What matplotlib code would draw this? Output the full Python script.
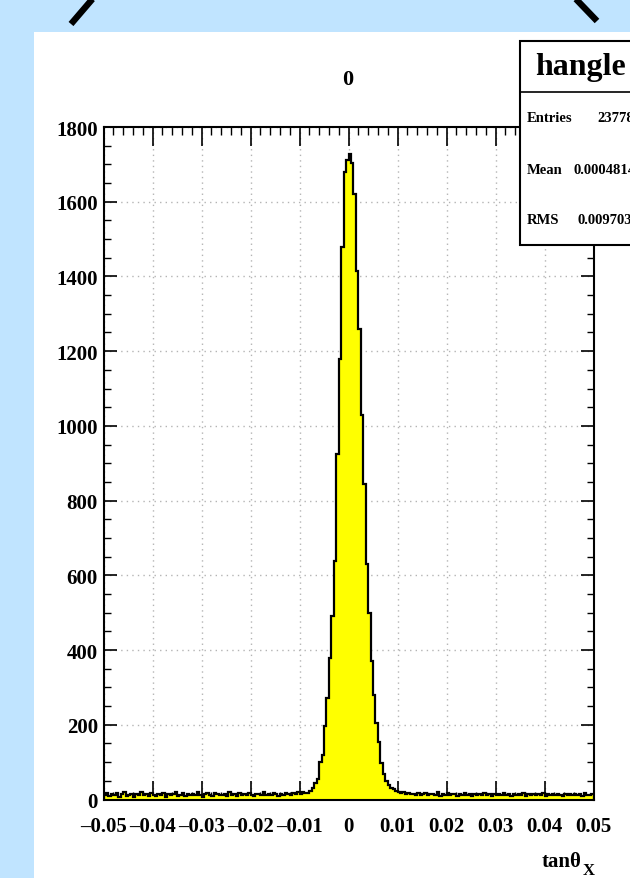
import numpy as np
import matplotlib
matplotlib.use("Agg")
import matplotlib.pyplot as plt
from matplotlib.ticker import MultipleLocator
from matplotlib.patches import Rectangle
from matplotlib.lines import Line2D

# ---------------- data ----------------
x_min, x_max, n_bins = -0.05, 0.05, 200

left_tail = [
    12, 18, 9, 15, 11, 17, 8, 14, 19, 10,
    13, 16, 7, 15, 12, 20, 11, 14, 9, 17,
    13, 10, 16, 12, 18, 8, 15, 11, 14, 19,
    10, 13, 17, 9, 15, 12, 16, 11, 20, 13,
    8, 14, 17, 12, 10, 18, 15, 11, 13, 16,
    9, 19, 12, 14, 10, 17, 13, 15, 11, 18,
    12, 9, 16, 14, 13, 19, 11, 15, 12, 17,
    14, 10, 16, 13, 18, 15, 12, 17, 14, 19,
    16, 20, 18, 18, 22,
]
peak = [
    31, 45, 54, 100, 120, 196, 272, 379, 491, 638,
    924, 1180, 1478, 1679, 1712, 1728, 1703, 1620, 1415, 1259,
    1029, 844, 629, 500, 370, 281, 204, 153, 98, 67,
    49, 40, 32, 27, 22,
]
right_tail = [
    20, 17, 19, 15, 18, 14, 16, 13, 17, 12,
    15, 18, 11, 14, 16, 12, 19, 10, 15, 13,
    17, 11, 14, 16, 9, 15, 13, 18, 12, 14,
    10, 16, 13, 15, 11, 17, 12, 14, 9, 16,
    13, 15, 11, 18, 12, 14, 10, 16, 13, 15,
    12, 17, 9, 14, 13, 16, 11, 15, 12, 18,
    10, 14, 13, 16, 11, 15, 12, 9, 14, 13,
    16, 11, 15, 12, 14, 10, 17, 13, 11, 15,
]
counts = np.array(left_tail + peak + right_tail, dtype=float)

title = "0"
x_label = "tan\u03b8"
x_label_sub = "X"
stats_name = "hangle"
stats_rows = [("Entries", "23778"), ("Mean", "0.0004814"), ("RMS", "0.009703")]

# ---------------- figure ----------------
W, H = 630, 879
FONT = "Liberation Serif"
plt.rcParams["font.family"] = [FONT, "DejaVu Serif"]
plt.rcParams["font.weight"] = "bold"

fig = plt.figure(figsize=(W / 100, H / 100), dpi=100)
fig.patch.set_facecolor("#C0E4FF")

def fx(px):
    return px / W

def fy(py):
    return 1 - py / H

# white panel
fig.patches.append(Rectangle((fx(34), 0), 1 - fx(34), fy(32.5), transform=fig.transFigure,
                             facecolor="white", edgecolor="none", zorder=-1))
# decorative black strokes at the top
fig.lines.append(Line2D([fx(71), fx(95)], [fy(25), fy(-3)], transform=fig.transFigure,
                        color="black", lw=4.6, solid_capstyle="butt"))
fig.lines.append(Line2D([fx(573), fx(597)], [fy(-3), fy(22)], transform=fig.transFigure,
                        color="black", lw=4.6, solid_capstyle="butt"))

ax_l, ax_r, ax_t, ax_b = 103.5, 593.5, 128, 800.5
ax = fig.add_axes([fx(ax_l), fy(ax_b), (ax_r - ax_l) / W, (ax_b - ax_t) / H])

edges = np.linspace(x_min, x_max, n_bins + 1)
ax.stairs(counts, edges, fill=True, color="#FFFF00", zorder=2)
ax.stairs(counts, edges, baseline=0, fill=False, color="black", lw=1.6, zorder=3)

ax.set_xlim(x_min, x_max)
ax.set_ylim(0, 1800)

ax.xaxis.set_major_locator(MultipleLocator(0.01))
ax.xaxis.set_minor_locator(MultipleLocator(0.002))
ax.yaxis.set_major_locator(MultipleLocator(200))
ax.yaxis.set_minor_locator(MultipleLocator(50))

xt = np.round(np.arange(-0.05, 0.0501, 0.01), 2)
ax.set_xticks(xt)
ax.set_xticklabels([("\u2013" + f"{abs(v):g}") if v < 0 else f"{v:g}" for v in xt])
yt = np.arange(0, 1801, 200)
ax.set_yticks(yt)
ax.set_yticklabels([str(v) for v in yt])

ax.tick_params(axis="x", which="major", direction="in", length=14, width=1.2,
               top=True, bottom=True, labelsize=15, pad=12)
ax.tick_params(axis="x", which="minor", direction="in", length=5.5, width=1.0,
               top=True, bottom=True)
ax.tick_params(axis="y", which="major", direction="in", length=9.5, width=1.2,
               left=True, right=True, labelsize=15, pad=4)
ax.tick_params(axis="y", which="minor", direction="in", length=5, width=1.0,
               left=True, right=True)
for lab in ax.get_xticklabels() + ax.get_yticklabels():
    lab.set_fontweight("bold")
    lab.set_family(FONT)

for sp in ax.spines.values():
    sp.set_linewidth(1.5)
    sp.set_zorder(4)

ax.grid(True, which="major", linestyle=(0, (1, 3)), color="#b4b4b4", lw=1.0, zorder=1)
ax.set_axisbelow(True)

# title
fig.text(fx(348), fy(80), title, ha="center", va="center", fontsize=16,
         fontweight="bold", family=FONT)

# x label
fig.text(fx(582), fy(867), x_label, ha="right", va="baseline", fontsize=15,
         fontweight="bold", family=FONT)
fig.text(fx(583), fy(875), x_label_sub, ha="left", va="baseline", fontsize=12,
         fontweight="bold", family=FONT)

# stats box
box = Rectangle((fx(520), fy(246)), fx(140), (246 - 42) / H, transform=fig.transFigure,
                facecolor="white", edgecolor="black", lw=1.5, zorder=10)
fig.patches.append(box)
fig.lines.append(Line2D([fx(520), fx(660)], [fy(93), fy(93)], transform=fig.transFigure,
                        color="black", lw=1.2, zorder=11))
fig.text(fx(581), fy(68), stats_name, ha="center", va="center", fontsize=23,
         fontweight="bold", family=FONT, zorder=12)
row_y = [118, 170, 220]
val_x = [597, 573, 578]
for (name, val), yy, vx in zip(stats_rows, row_y, val_x):
    fig.text(fx(527), fy(yy), name, ha="left", va="center", fontsize=10.5,
             fontweight="bold", family=FONT, zorder=12)
    fig.text(fx(vx), fy(yy), val, ha="left", va="center", fontsize=10.5,
             fontweight="bold", family=FONT, zorder=12)

fig.savefig("out.png", dpi=100)
